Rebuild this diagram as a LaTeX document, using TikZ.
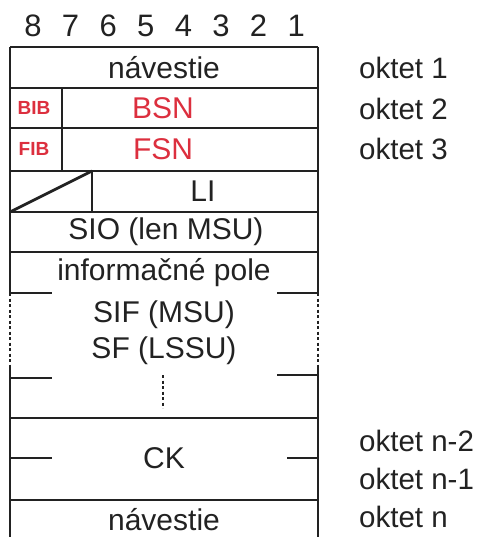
\documentclass[tikz,border=0pt]{standalone}
\usepackage{fontspec}
\setmainfont{Liberation Sans}
\definecolor{fieldred}{HTML}{DC2F3E}
\definecolor{ink}{HTML}{222222}
\begin{document}
\begin{tikzpicture}[x=1pt,y=-1pt,
  frame/.style={line width=2.8pt, draw=ink},
  gap/.style={line width=2.6pt, draw=ink, dash pattern=on 3pt off 2.5pt},
  lbl/.style={font=\fontsize{30}{31}\selectfont, text=ink, inner sep=0pt},
  bitno/.style={font=\fontsize{31}{32}\selectfont, text=ink, inner sep=0pt},
  field/.style={font=\fontsize{30}{31}\selectfont, text=fieldred, inner sep=0pt},
  flag/.style={font=\bfseries\fontsize{19}{21}\selectfont, text=fieldred, inner sep=0pt},
  oct/.style={font=\fontsize{29.5}{30}\selectfont, text=ink, inner sep=0pt, anchor=west}]
\useasboundingbox (0,0) rectangle (485,537);

% bit numbers
\foreach \b [count=\i from 0] in {8,7,6,5,4,3,2,1}
  \node[bitno] (bit\b) at (33+37.6*\i,26) {\b};

% outer side walls, broken by the variable-length field
\draw[frame] (10,47) -- (10,293) (318,47) -- (318,293);
\draw[gap] (10,293) -- (10,367) (318,293) -- (318,367);
\draw[frame] (10,367) -- (10,537) (318,367) -- (318,537);

% full-width separators
\foreach \y in {47,88,128,171,212,252,418,500}
  \draw[frame] (10,\y) -- (318,\y);

% short edge ticks
\draw[frame] (10,293) -- (52,293) (277,293) -- (318,293);
\draw[frame] (10,378) -- (52,378) (277,375) -- (318,375);
\draw[frame] (10,458) -- (52,458) (287,458) -- (318,458);

% BIB / FIB and LI subdivisions
\draw[frame] (62,88) -- (62,171);
\draw[frame] (92,171) -- (92,212);
\draw[frame] (10,212) -- (92,171);

% continuation dots
\draw[gap] (163,375) -- (163,408);

% field labels
\node[lbl] (flag1) at (164,68) {návestie};
\node[flag] (bib) at (34,108) {BIB};
\node[field] (bsn) at (163,108) {BSN};
\node[flag] (fib) at (34,149) {FIB};
\node[field] (fsn) at (163,149) {FSN};
\node[lbl] (li) at (203,191) {LI};
\node[lbl] (sio) at (166,232) {SIO (len MSU)};
\node[lbl] (info) at (164,273) {informačné pole};
\node[lbl] (sif) at (164,315) {SIF (MSU)};
\node[lbl] (sf) at (164,351) {SF (LSSU)};
\node[lbl] (ck) at (164,458) {CK};
\node[lbl] (flag2) at (164,520) {návestie};

% octet numbering
\node[oct] (o1) at (359,68) {oktet 1};
\node[oct] (o2) at (359,109) {oktet 2};
\node[oct] (o3) at (359,149) {oktet 3};
\node[oct] (on2) at (359,441) {oktet n-2};
\node[oct] (on1) at (359,479) {oktet n-1};
\node[oct] (on) at (359,517) {oktet n};
\end{tikzpicture}
\end{document}
